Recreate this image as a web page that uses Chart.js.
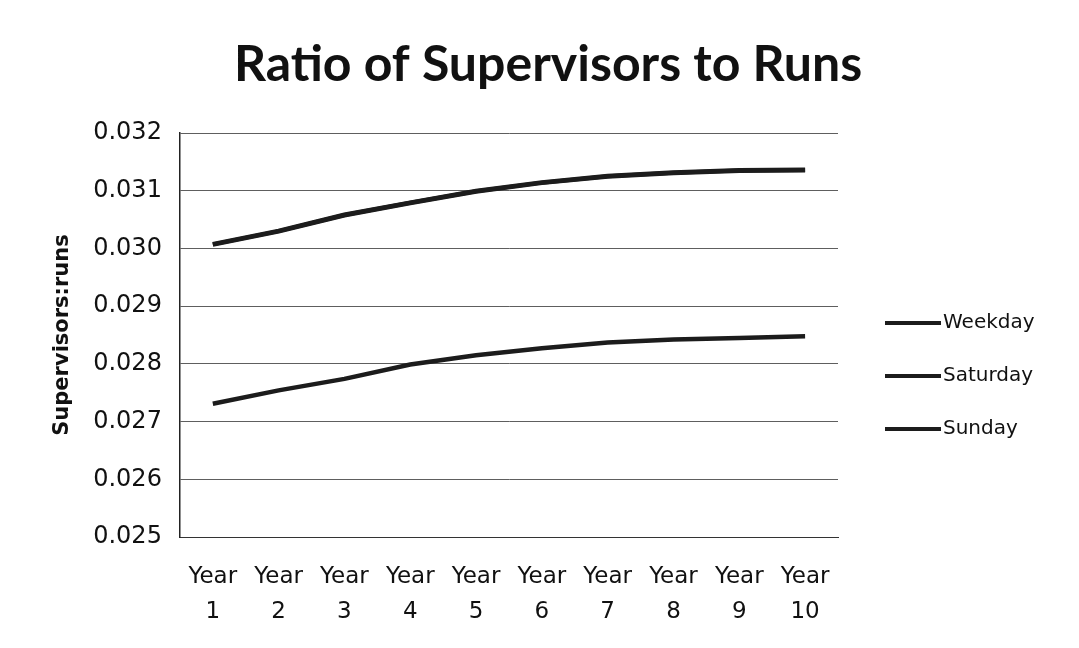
<!DOCTYPE html>
<html>
<head>
<meta charset="utf-8">
<script src="https://cdn.jsdelivr.net/npm/chart.js@4.4.1/dist/chart.umd.min.js"></script>
<style>
  html, body { margin: 0; padding: 0; background: #fff; }
  #wrap { width: 1079px; height: 648px; }
</style>
</head>
<body>
<div id="wrap"><canvas id="ratio-chart"></canvas></div>
<script>
// values
const years = [['Year', '1'], ['Year', '2'], ['Year', '3'], ['Year', '4'], ['Year', '5'],
               ['Year', '6'], ['Year', '7'], ['Year', '8'], ['Year', '9'], ['Year', '10']];
const weekday  = [0.02731, 0.02754, 0.02774, 0.02799, 0.02815, 0.02827, 0.02837, 0.02842, 0.02845, 0.02848];
const saturday = [0.03007, 0.03030, 0.03058, 0.03079, 0.03099, 0.03114, 0.03125, 0.03131, 0.03135, 0.03136];
const sunday   = [0.03007, 0.03030, 0.03058, 0.03079, 0.03099, 0.03114, 0.03125, 0.03131, 0.03135, 0.03136];
const yTicks = { min: 0.025, max: 0.032, step: 0.001 };

const ink = '#1c1c1c';
const textFont = 'DejaVu Sans';

const lineSet = (label, data, width) => ({
    label: label,
    data: data,
    borderColor: ink,
    backgroundColor: ink,
    borderWidth: width,
    pointRadius: 0,
    tension: 0,
    fill: false
});

// legend to the right of the plot, one line sample per series
const sideLegend = {
    id: 'sideLegend',
    afterDraw: (chart) => {
        const ctx = chart.ctx;
        const area = chart.chartArea;
        const x0 = area.right + 47;
        const y0 = area.top + 190;
        ctx.save();
        ctx.font = '20px "' + textFont + '"';
        ctx.textBaseline = 'middle';
        ctx.fillStyle = '#111';
        chart.data.datasets.forEach((ds, i) => {
            const y = y0 + i * 53;
            ctx.strokeStyle = ds.borderColor;
            ctx.lineWidth = 4;
            ctx.beginPath();
            ctx.moveTo(x0, y);
            ctx.lineTo(x0 + 56, y);
            ctx.stroke();
            ctx.fillText(ds.label, x0 + 58, y);
        });
        ctx.restore();
    }
};

const config = {
    type: 'line',
    data: {
        labels: years,
        datasets: [
            lineSet('Weekday', weekday, 4.5),
            lineSet('Saturday', saturday, 5),
            lineSet('Sunday', sunday, 4)
        ]
    },
    options: {
        responsive: true,
        maintainAspectRatio: false,
        animation: false,
        layout: { padding: { left: 47, right: 30, top: 0, bottom: -4 } },
        plugins: {
            title: {
                display: true,
                text: 'Ratio of Supervisors to Runs',
                color: '#111',
                font: { family: 'Lato', size: 50, weight: 'bold', lineHeight: 1.2 },
                padding: { top: 35, bottom: 38 }
            },
            legend: { display: false },
            tooltip: { enabled: false }
        },
        scales: {
            x: {
                offset: true,
                grid: { display: false, drawTicks: false },
                border: { display: true, color: '#333', width: 1 },
                ticks: {
                    color: '#111',
                    font: { family: textFont, size: 23, lineHeight: 1.5 },
                    padding: 23,
                    maxRotation: 0,
                    autoSkip: false
                }
            },
            y: {
                min: yTicks.min,
                max: yTicks.max,
                grid: { color: '#5e5e5e', lineWidth: 1, drawTicks: false },
                border: { display: true, color: '#222', width: 1.5 },
                ticks: {
                    stepSize: yTicks.step,
                    color: '#111',
                    font: { family: textFont, size: 24 },
                    padding: 18,
                    callback: (v) => v.toFixed(3)
                },
                title: {
                    display: true,
                    text: 'Supervisors:runs',
                    color: '#111',
                    font: { family: textFont, size: 21, weight: 'bold', lineHeight: 1.2 },
                    padding: { top: 3, bottom: 0 }
                }
            },
            gap: {
                // empty scale on the right, leaves room for the legend
                position: 'right',
                display: true,
                grid: { display: false },
                border: { display: false },
                ticks: { display: false },
                afterFit: (scale) => { scale.width = 211; }
            }
        }
    },
    plugins: [sideLegend]
};

const ratioChart = new Chart(document.getElementById('ratio-chart'), config);
</script>
</body>
</html>
